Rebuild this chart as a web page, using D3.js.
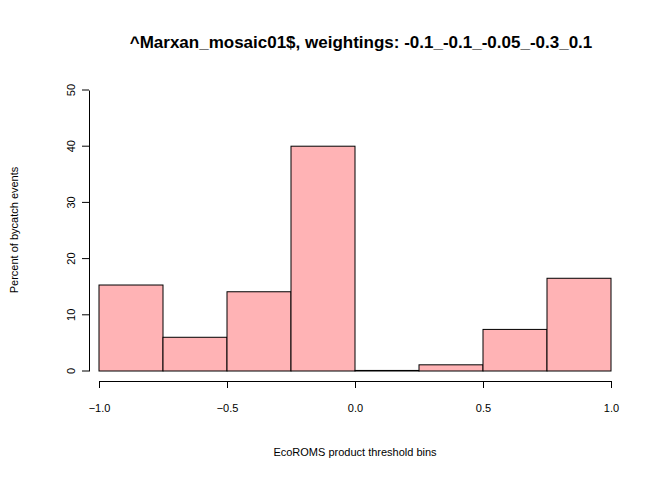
<!DOCTYPE html>
<html>
<head>
<meta charset="UTF-8">
<script src="https://d3js.org/d3.v7.min.js"></script>
<style>body{margin:0;background:#fff}</style>
</head>
<body>
<svg id="chart"></svg>
<script>
const width = 672, height = 480;
// bin edges and percent of events per bin
const binStarts = [-1, -0.75, -0.5, -0.25, 0, 0.25, 0.5, 0.75];
const binWidth = 0.25;
const percents = [15.3, 6.0, 14.1, 40.0, 0.1, 1.1, 7.4, 16.5];
const xTicks = [-1, -0.5, 0, 0.5, 1];
const yTicks = [0, 10, 20, 30, 40, 50];

const svg = d3.select('#chart').attr('width', width).attr('height', height)
  .style('font-family', 'Liberation Sans, Arial, sans-serif');

const x = d3.scaleLinear().domain([-1, 1]).range([99, 611]);
const y = d3.scaleLinear().domain([0, 50]).range([371, 90]);

svg.append('g').selectAll('rect').data(binStarts).join('rect')
  .attr('x', d => x(d))
  .attr('width', d => x(d + binWidth) - x(d))
  .attr('y', (d, i) => y(percents[i]))
  .attr('height', (d, i) => y(0) - y(percents[i]))
  .attr('fill', '#ffb3b5').attr('stroke', '#000').attr('stroke-width', 1);

const xa = svg.append('g').attr('transform', 'translate(0,381)')
  .call(d3.axisBottom(x).tickValues(xTicks).tickFormat(d3.format('.1f')).tickSize(7).tickSizeOuter(0));
xa.selectAll('text').attr('dy', '1.9em').style('font-size', '11px');
const ya = svg.append('g').attr('transform', 'translate(89,0)')
  .call(d3.axisLeft(y).tickValues(yTicks).tickSize(7).tickSizeOuter(0));
ya.selectAll('text').attr('transform', d => `translate(-8,${y(d)}) rotate(-90) translate(0,${-y(d)})`)
  .attr('text-anchor', 'middle').attr('x', 0).attr('dy', '0').attr('y', y => 0)
  .each(function(d){ d3.select(this).attr('transform', `rotate(-90,-14,${y(d)})`).attr('x', -14).attr('y', y(d)); })
  .style('font-size', '11px');
// reposition y tick labels directly
ya.selectAll('.tick').attr('transform', null);
ya.selectAll('.tick line').attr('y1', d => y(d)).attr('y2', d => y(d));
ya.selectAll('.tick text').attr('x', -14).attr('y', d => y(d))
  .attr('transform', d => `rotate(-90,-14,${y(d)})`).attr('dy', '0');
svg.selectAll('.domain').attr('stroke', '#000');
svg.selectAll('.tick line').attr('stroke', '#000');
svg.selectAll('.tick text').attr('fill', '#000').attr('font-family', 'Liberation Sans, Arial, sans-serif');

svg.append('text').attr('x', 355).attr('y', 456).attr('text-anchor', 'middle')
  .style('font-size', '11px').text('EcoROMS product threshold bins');
svg.append('text').attr('transform', 'translate(18,230) rotate(-90)').attr('text-anchor', 'middle')
  .style('font-size', '11px').text('Percent of bycatch events');
svg.append('text').attr('x', 361).attr('y', 48).attr('text-anchor', 'middle')
  .style('font-size', '17px').style('font-weight', 'bold')
  .text('^Marxan_mosaic01$, weightings: -0.1_-0.1_-0.05_-0.3_0.1');
</script>
</body>
</html>
